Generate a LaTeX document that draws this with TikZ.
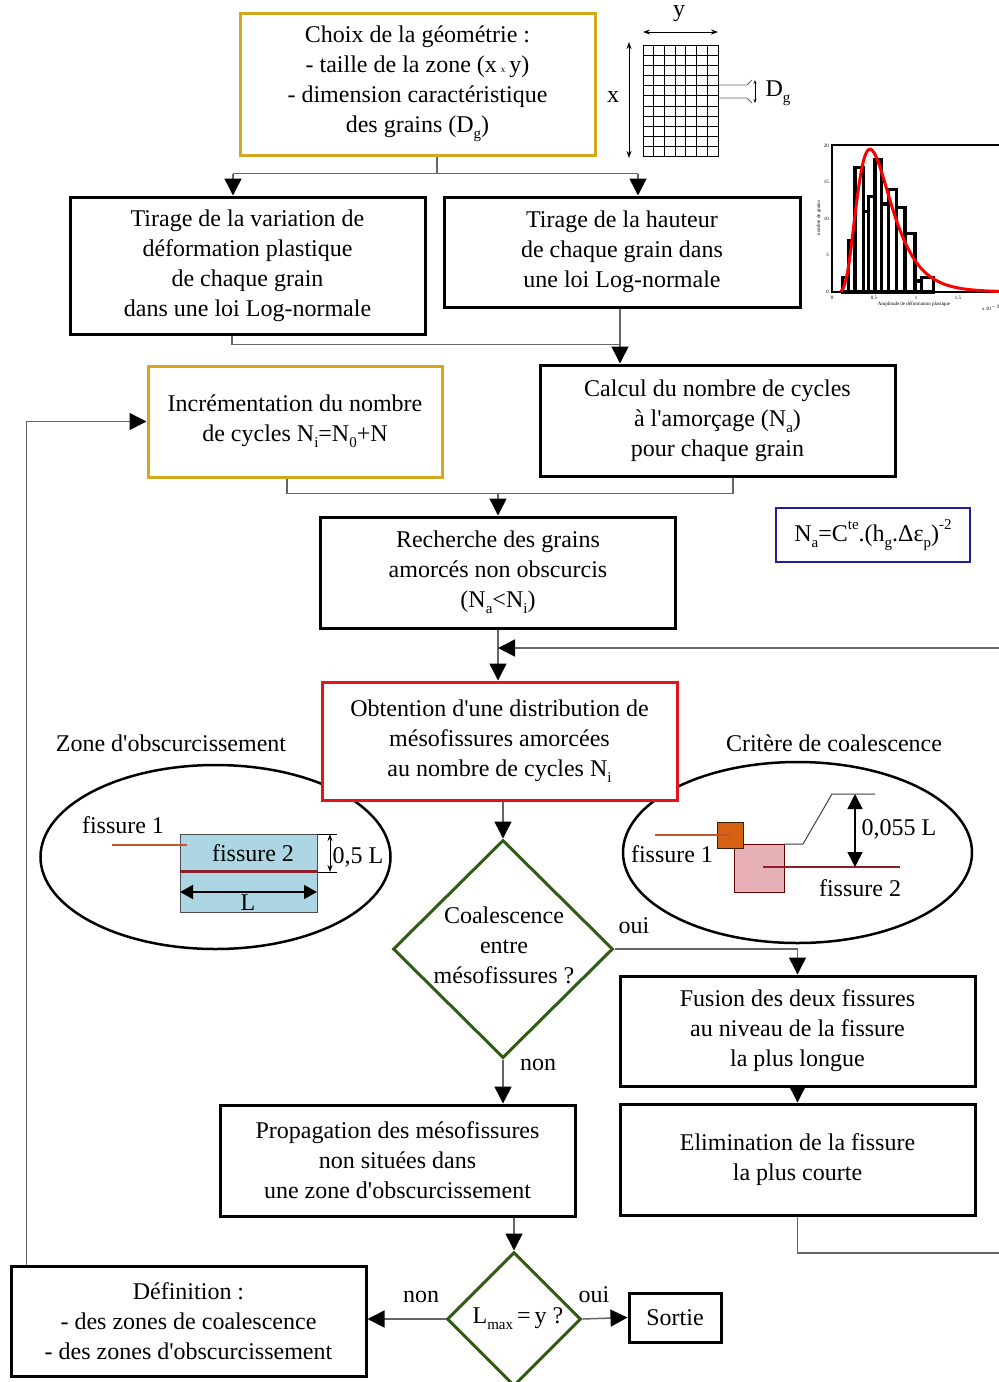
\documentclass[tikz,border=0pt]{standalone}
\usepackage{fontspec}
\setmainfont[Ligatures=TeXOff]{Liberation Serif}
\usetikzlibrary{arrows.meta,shapes.geometric}
\definecolor{gold}{RGB}{212,168,30}
\definecolor{redbox}{RGB}{228,20,24}
\definecolor{dgreen}{RGB}{50,92,20}
\definecolor{fblue}{RGB}{30,30,160}
\definecolor{lblue}{RGB}{172,214,228}
\definecolor{brn}{RGB}{196,84,40}
\definecolor{dred}{RGB}{140,30,40}
\definecolor{orangec}{RGB}{214,96,20}
\definecolor{pinkc}{RGB}{230,176,182}
\newcommand\msz{\fontsize{24}{30}\selectfont}
\newcommand\mysub[1]{\raisebox{-0.25em}{\fontsize{15}{15}\selectfont #1}}
\newcommand\mysup[1]{\raisebox{0.5em}{\fontsize{15}{15}\selectfont #1}}
\newcommand\tinyf{\fontsize{5}{6}\selectfont}
\begin{document}
\begin{tikzpicture}[x=1pt,y=-1pt,
  box/.style={draw, line width=3pt, inner sep=0pt, align=center, font=\msz, fill=white},
  goldbox/.style={box, draw=gold},
  dia/.style={diamond, draw=dgreen, line width=3pt, inner sep=0pt, fill=white},
  lab/.style={font=\msz, inner sep=0pt},
  conn/.style={draw=black!60, line width=1.5pt},
  arr/.style={conn, -{Triangle[length=17pt,width=17pt,color=black]}},
  dimarr/.style={line width=1.5pt, {Triangle[length=13pt,width=14pt]}-{Triangle[length=13pt,width=14pt]}},
  smallarr/.style={line width=0.9pt, {Stealth[length=7pt,width=5pt]}-{Stealth[length=7pt,width=5pt]}}
]
\useasboundingbox (0,0) rectangle (999,1382);
\fill[white] (0,0) rectangle (999,1382);

% ---------- top box and grid ----------
\node[goldbox, minimum width=355, minimum height=142] (choix) at (417.5,84)
  {Choix de la géométrie :\\- taille de la zone (x\,{\fontsize{9}{9}\selectfont x}\,y)\\- dimension caractéristique\\des grains (D\mysub{g})};

\foreach \i in {0,...,7} \draw[line width=1pt] (643+\i*10.714,45) -- ++(0,112);
\foreach \j in {0,...,11} \draw[line width=1pt] (643,45+\j*10.18) -- ++(75,0);
\draw[smallarr] (643,32) -- (718,32);
\node[lab] (ylab) at (679,14) {y};
\draw[smallarr] (629,42) -- (629,158);
\node[lab] (xlab) at (613,97) {x};
\draw[black!60, line width=0.8pt] (718,85) -- (747,85) -- (752,80);
\draw[black!60, line width=0.8pt] (718,98) -- (747,98) -- (752,103);
\draw[line width=0.8pt, {Stealth[length=4pt]}-{Stealth[length=4pt]}] (755,80) -- (755,103);
\node[lab] (dglab) at (778,93) {D\mysub{g}};

% ---------- histogram ----------
\draw[line width=1.5pt] (999,145) -- (832,145) -- (832,292) -- (999,292);
\foreach \a/\b/\h in {842.7/848.3/2, 848.3/855/7, 855/863.3/17, 863.3/868.3/11, 868.3/875/13,
  875/881.7/18, 881.7/888.3/12, 888.3/896.7/14, 896.7/905/11.5, 905/915/8, 915/921.7/1.5, 921.7/933.3/2}
  \draw[line width=3.2pt] (\a,292) rectangle (\b,292-\h*7.33);
\draw[red, line width=3pt] plot[domain=0.1:1.99, samples=90, smooth]
  ({832+84*\x},{292-7.33*19.5*exp(-(ln(\x)+0.5916)*(ln(\x)+0.5916)/0.405)/\x/2.0});
\foreach \v/\t in {0/0, 42/0.5, 84/1, 126/1.5} \node[font=\tinyf, inner sep=0pt] (xt\t) at (832+\v,298) {\t};
\foreach \v/\t in {0/0, 5/5, 10/10, 15/15, 20/20} \node[font=\tinyf, inner sep=0pt, anchor=east] (yt\t) at (829,292-\v*7.33) {\t};
\node[font=\tinyf, rotate=90, inner sep=0pt] (hyl) at (819,218) {nombre de grains};
\node[font=\tinyf, inner sep=0pt] (hxl) at (914,304) {Amplitude de déformation plastique};
\node[font=\tinyf, inner sep=0pt, anchor=west] (hx3) at (982,308) {x 10$^{-3}$};

% ---------- second row ----------
\node[box, minimum width=355, minimum height=137] (tv) at (247.5,265.5)
  {Tirage de la variation de\\déformation plastique\\de chaque grain\\dans une loi Log-normale};
\node[box, minimum width=356, minimum height=110] (th) at (622,252)
  {Tirage de la hauteur\\de chaque grain dans\\une loi Log-normale};
\draw[conn] ([xshift=19.5pt]choix.south) -- ++(0,17) coordinate (j1);
\draw[conn] ([xshift=-14.5pt]tv.north |- j1) -- ([xshift=16pt]th.north |- j1);
\draw[arr] ([xshift=-14.5pt]tv.north |- j1) -- ([xshift=-14.5pt]tv.north);
\draw[arr] ([xshift=16pt]th.north |- j1) -- ([xshift=16pt]th.north);

% ---------- third row ----------
\node[goldbox, minimum width=294, minimum height=111] (incr) at (295,421.5)
  {Incrémentation du nombre\\de cycles N\mysub{i}=N\mysub{0}+N};
\node[box, minimum width=355, minimum height=111] (calc) at (717.5,420.5)
  {Calcul du nombre de cycles\\à l'amorçage (N\mysub{a})\\pour chaque grain};
\draw[conn] ([xshift=-15.5pt]tv.south) -- ++(0,9) coordinate (j2) -- ([xshift=-2pt]th.south |- j2);
\draw[arr] ([xshift=-2pt]th.south) -- ([xshift=-97.5pt]calc.north);

\node[box, draw=fblue, line width=2pt, minimum width=194, minimum height=54] (form) at (873,535)
  {N\mysub{a}=C\mysup{te}.(h\mysub{g}.Δε\mysub{p})\mysup{-2}};

% ---------- Recherche ----------
\node[box, minimum width=355, minimum height=111] (rech) at (498,572.5)
  {Recherche des grains\\amorcés non obscurcis\\(N\mysub{a}<N\mysub{i})};
\draw[conn] ([xshift=-8pt]incr.south) -- ++(0,15) coordinate (j3) -- ([xshift=15.5pt]calc.south |- j3);
\draw[conn] ([xshift=15.5pt]calc.south) -- ([xshift=15.5pt]calc.south |- j3);
\draw[arr] (rech.north |- j3) -- (rech.north);

% ---------- ellipses ----------
\draw[line width=2.5pt] (215.5,857) ellipse [x radius=175, y radius=92];
\filldraw[fill=lblue, draw=black!70, line width=1pt] (180,834) rectangle (317,912);
\draw[dred, line width=3pt] (180,871) -- (317,871);
\draw[brn, line width=2pt] (112,845) -- (187,845);
\draw[dimarr] (180,892) -- (317,892);
\node[lab] (lL) at (248,903) {L};
\node[lab] (lf2a) at (253,853) {fissure 2};
\node[lab] (lf1a) at (123,825) {fissure 1};
\draw[line width=0.6pt] (317,834) -- (337,834);
\draw[line width=0.6pt] (317,872) -- (337,872);
\draw[smallarr] (330,834) -- (330,872);
\node[lab] (l05) at (358,857) {0,5 L};

\draw[line width=2.5pt] (797.5,852.5) ellipse [x radius=174.5, y radius=90.5];
\filldraw[fill=pinkc, draw=black!60!red, line width=1pt] (734,844) rectangle (784,892);
\filldraw[fill=orangec, draw=black!70!orangec, line width=1pt] (717,822) rectangle (743,848);
\draw[brn, line width=2pt] (655,835) -- (730,835);
\draw[dred, line width=2pt] (763,867) -- (900,867);
\draw[black!75, line width=1pt] (784,844) -- (803,844) -- (832,794) -- (875,794);
\draw[line width=1.5pt, {Triangle[length=15pt,width=15pt]}-{Triangle[length=15pt,width=15pt]}] (855,794) -- (855,867);
\node[lab] (l055) at (899,829) {0,055 L};
\node[lab] (lf1b) at (672,854) {fissure 1};
\node[lab] (lf2b) at (860,888) {fissure 2};

\node[lab] (zone) at (171,743) {Zone d'obscurcissement};
\node[lab] (crit) at (834,743) {Critère de coalescence};

% ---------- Obtention ----------
\node[box, draw=redbox, minimum width=355, minimum height=118] (obt) at (499.5,741)
  {Obtention d'une distribution de\\mésofissures amorcées\\au nombre de cycles N\mysub{i}};
\draw[arr] (rech.south) -- (obt.north -| rech.south);
\coordinate (rin) at (999,648);
\draw[arr] (rin) -- (rech.south |- rin);

% ---------- coalescence diamond ----------
\node[dia, minimum width=220, minimum height=218] (d1) at (503,949) {};
\node[lab, align=center] (d1t) at (504,945) {Coalescence\\entre\\mésofissures ?};
\draw[arr] (d1.north |- obt.south) -- (d1.north);

\node[box, minimum width=355, minimum height=110] (fus) at (797.5,1031)
  {Fusion des deux fissures\\au niveau de la fissure\\la plus longue};
\node[box, minimum width=355, minimum height=111] (elim) at (797.5,1159.5)
  {Elimination de la fissure\\la plus courte};
\node[box, minimum width=355, minimum height=111] (prop) at (397.5,1160.5)
  {Propagation des mésofissures\\non situées dans\\une zone d'obscurcissement};
\draw[arr] (d1.east) -- (fus.north |- d1.east) -- (fus.north);
\node[lab] (oui1) at (634,926) {oui};
\draw[arr] (d1.south) -- (d1.south |- prop.north);
\node[lab] (non1) at (538,1065) {non};
\draw[arr] (fus.south) -- (elim.north);
\coordinate (rout) at (999,1253);
\draw[conn] (elim.south) |- (rout);

% ---------- bottom ----------
\node[dia, minimum width=134, minimum height=134] (d2) at (514,1319) {};
\node[lab] (d2t) at (518,1319) {L\mysub{max}\,=\,y ?};
\draw[arr] (d2.north |- prop.south) -- (d2.north);
\node[box, minimum width=92, minimum height=49] (sortie) at (675,1317.5) {Sortie};
\node[box, minimum width=355, minimum height=110] (def) at (188.5,1321)
  {Définition :\\- des zones de coalescence\\- des zones d'obscurcissement};
\draw[arr] (d2.east) -- (sortie.west);
\draw[arr] (d2.west) -- (def.east |- d2.west);
\node[lab] (oui2) at (594,1295) {oui};
\node[lab] (non2) at (421,1297) {non};
\draw[arr] ([xshift=17pt]def.north west) |- (incr.west);
\end{tikzpicture}
\end{document}
